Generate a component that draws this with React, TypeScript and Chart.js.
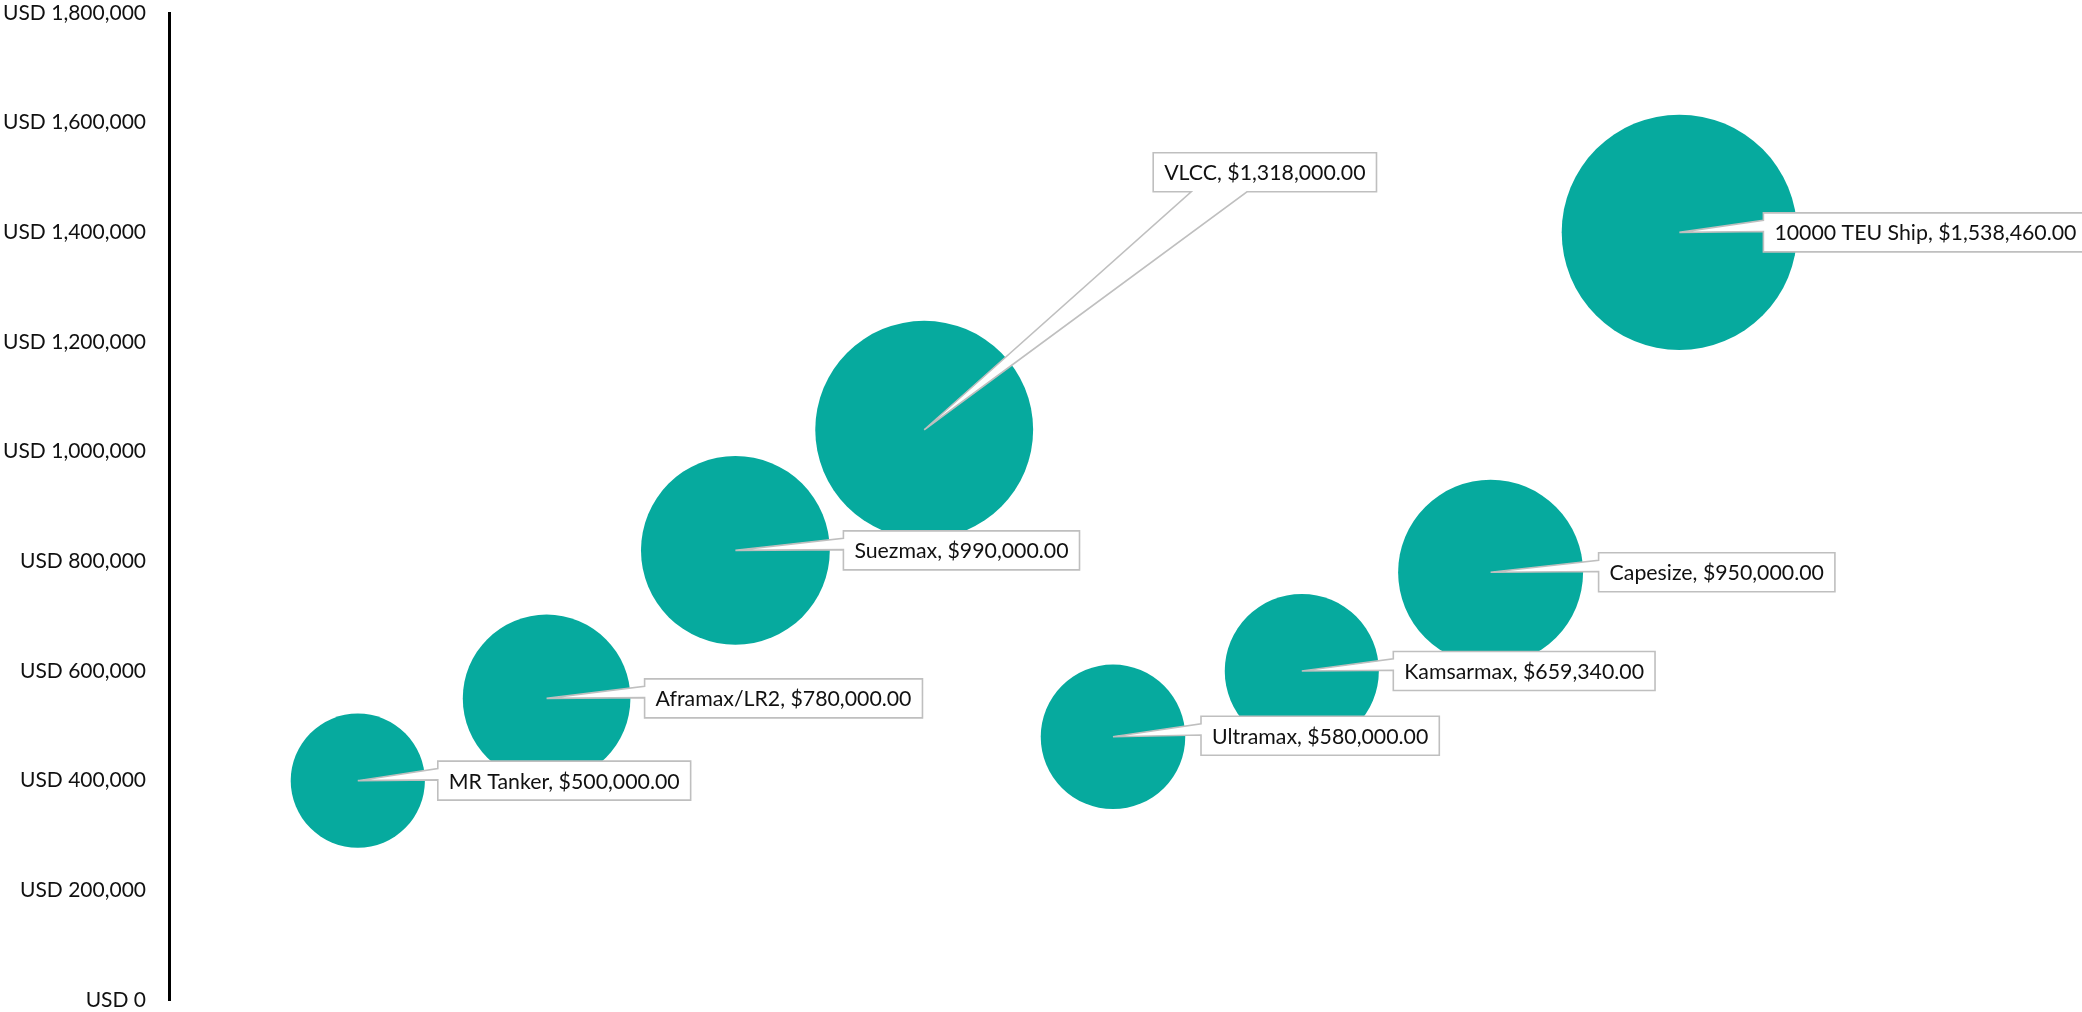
import React, { useEffect, useRef } from "react";
import { Chart, registerables } from "chart.js";

Chart.register(...registerables);

// ---- Data ----
const shipNames = [
  "MR Tanker",
  "Aframax/LR2",
  "Suezmax",
  "VLCC",
  "Ultramax",
  "Kamsarmax",
  "Capesize",
  "10000 TEU Ship",
];
const xValues = [1, 2, 3, 4, 5, 6, 7, 8];
const yValues = [400000, 550000, 820000, 1040000, 480000, 600000, 780000, 1400000];
const bubbleSizes = [500000, 780000, 990000, 1318000, 580000, 659340, 950000, 1538460];
const yAxisMin = 0;
const yAxisMax = 1800000;
const yAxisStep = 200000;

// ---- Layout / style (not data) ----
const BUBBLE_COLOR = "#06AA9E";
const MAX_BUBBLE_RADIUS = 117.7;
const FONT_FAMILY = "Lato, 'Noto Sans', sans-serif";
const TICK_FONT_SIZE = 21;
const LABEL_FONT_SIZE = 21.3;
// callout box placement relative to bubble centre: dx = box left offset, dy = box centre-y offset
const calloutPlacement = [
  { dx: 80, dy: 0, side: "left" },
  { dx: 98, dy: 0, side: "left" },
  { dx: 108, dy: 0, side: "left" },
  { dx: 229, dy: -257.5, side: "bottom" },
  { dx: 88, dy: -1, side: "left" },
  { dx: 91.5, dy: 0, side: "left" },
  { dx: 108, dy: 0, side: "left" },
  { dx: 84, dy: 0, side: "left" },
];

const maxSize = Math.max(...bubbleSizes);

const fmtMoney = (v: number) =>
  "$" + v.toLocaleString("en-US", { minimumFractionDigits: 2, maximumFractionDigits: 2 });

const calloutPlugin = {
  id: "calloutPlugin",
  afterDatasetsDraw(chart: any) {
    const ctx = chart.ctx as CanvasRenderingContext2D;
    const meta = chart.getDatasetMeta(0);
    ctx.save();
    ctx.font = `${LABEL_FONT_SIZE}px ${FONT_FAMILY}`;
    meta.data.forEach((el: any, i: number) => {
      const cx = el.x;
      const cy = el.y;
      const text = `${shipNames[i]}, ${fmtMoney(bubbleSizes[i])}`;
      const tw = ctx.measureText(text).width;
      const padX = 11;
      const h = 39;
      const w = tw + padX * 2;
      const p = calloutPlacement[i];
      const L = cx + p.dx;
      const T = cy + p.dy - h / 2;
      const R = L + w;
      const B = T + h;
      ctx.beginPath();
      if (p.side === "left") {
        const b1 = T + h * 0.19;
        const b2 = T + h * 0.48;
        ctx.moveTo(L, T);
        ctx.lineTo(R, T);
        ctx.lineTo(R, B);
        ctx.lineTo(L, B);
        ctx.lineTo(L, b2);
        ctx.lineTo(cx, cy);
        ctx.lineTo(L, b1);
        ctx.closePath();
      } else {
        const b1 = L + w * 0.17;
        const b2 = L + w * 0.42;
        ctx.moveTo(L, T);
        ctx.lineTo(R, T);
        ctx.lineTo(R, B);
        ctx.lineTo(b2, B);
        ctx.lineTo(cx, cy);
        ctx.lineTo(b1, B);
        ctx.lineTo(L, B);
        ctx.closePath();
      }
      ctx.fillStyle = "#ffffff";
      ctx.fill();
      ctx.lineWidth = 1.6;
      ctx.strokeStyle = "#BFBFBF";
      ctx.lineJoin = "miter";
      ctx.stroke();
      ctx.fillStyle = "#111111";
      ctx.textBaseline = "middle";
      ctx.textAlign = "left";
      ctx.fillText(text, L + padX, T + h / 2 + 1);
    });
    ctx.restore();
  },
};

export default function App() {
  const canvasRef = useRef<HTMLCanvasElement | null>(null);

  useEffect(() => {
    if (!canvasRef.current) return;
    const data = xValues.map((x, i) => ({
      x,
      y: yValues[i],
      r: MAX_BUBBLE_RADIUS * Math.sqrt(bubbleSizes[i] / maxSize),
    }));
    const chart = new Chart(canvasRef.current, {
      type: "bubble",
      data: {
        datasets: [
          {
            label: "Ship price",
            data,
            backgroundColor: BUBBLE_COLOR,
            borderWidth: 0,
            hoverBorderWidth: 0,
            clip: false as any,
          },
        ],
      },
      options: {
        responsive: false,
        devicePixelRatio: 1,
        animation: false,
        events: [],
        layout: { autoPadding: false, padding: { left: 0, right: 25, top: 0, bottom: 0 } },
        plugins: {
          legend: { display: false },
          tooltip: { enabled: false },
        },
        scales: {
          x: {
            type: "linear",
            display: false,
            min: 0,
            max: 10,
          },
          y: {
            type: "linear",
            min: yAxisMin,
            max: yAxisMax,
            afterFit: (scale: any) => {
              scale.width = 169;
              scale.paddingTop = 13;
              scale.paddingBottom = 12;
            },
            grid: { display: false, drawTicks: false },
            border: { display: true, color: "#000000", width: 3 },
            ticks: {
              stepSize: yAxisStep,
              padding: 23,
              color: "#111111",
              font: { family: FONT_FAMILY, size: TICK_FONT_SIZE },
              callback: (v: any) => "USD " + Number(v).toLocaleString("en-US"),
            },
          },
        },
      },
      plugins: [calloutPlugin],
    });
    return () => chart.destroy();
  }, []);

  return (
    <div style={{ position: "absolute", left: 0, top: 0, width: 2082, height: 1012, background: "#fff" }}>
      <canvas ref={canvasRef} width={2082} height={1012} style={{ display: "block", width: 2082, height: 1012 }} />
    </div>
  );
}
